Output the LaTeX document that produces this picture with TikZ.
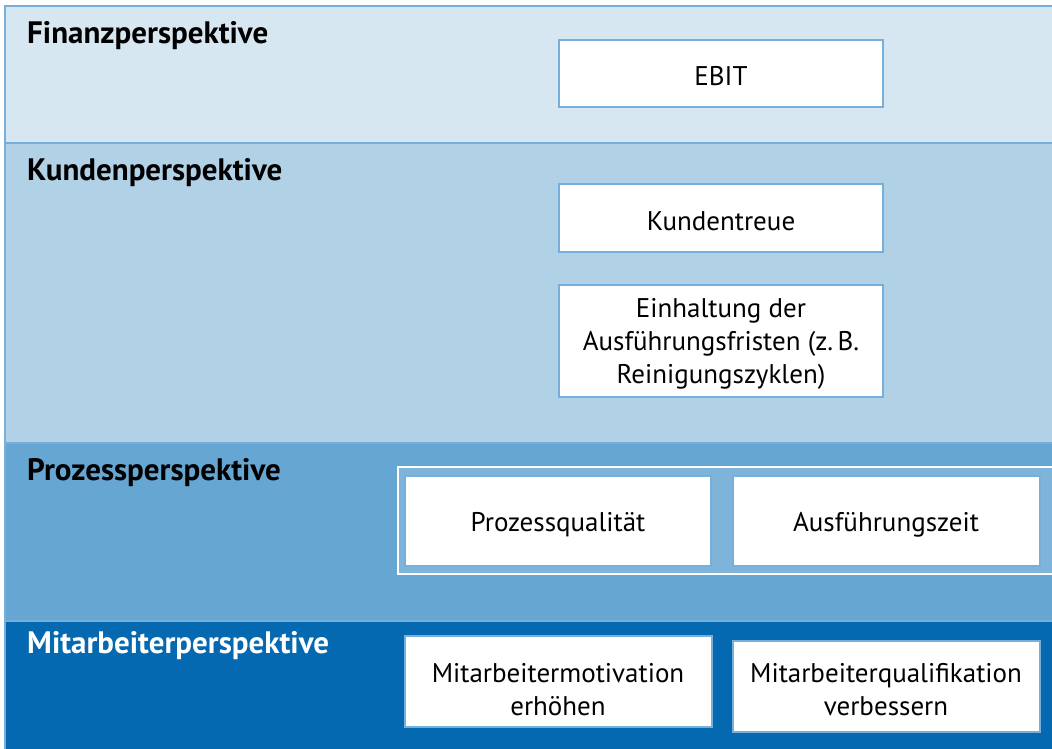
\documentclass[tikz,border=0pt]{standalone}
\usepackage{fontspec}
\setmainfont{PT Sans}
\definecolor{cfin}{HTML}{D7E7F2}
\definecolor{ckun}{HTML}{B1D1E6}
\definecolor{cpro}{HTML}{66A6D2}
\definecolor{cmit}{HTML}{0469B1}
\definecolor{cgrp}{HTML}{7FB4DA}
\definecolor{cedge}{HTML}{78AEDA}
\begin{document}
\begin{tikzpicture}[x=1pt,y=-1pt,
  band/.style={draw=cedge,line width=1.2pt},
  title/.style={anchor=base west,font=\bfseries\fontsize{31}{36}\selectfont,inner sep=0pt},
  item/.style={draw=cedge,fill=white,line width=1.2pt},
  itemtext/.style={font=\fontsize{27}{33}\selectfont,align=center,inner sep=0pt}]
\useasboundingbox (0,0) rectangle (1052,749);
\fill[white] (0,0) rectangle (1052,749);
% bands
\draw[band,fill=cfin] (5,6) rectangle (1053,143);
\draw[band,fill=ckun] (5,143) rectangle (1053,443);
\draw[band,fill=cpro] (5,443) rectangle (1053,621);
\draw[band,fill=cmit] (5,621) rectangle (1053,750);
\node[title] (tfin) at (27,44) {Finanzperspektive};
\node[title] (tkun) at (27,180) {Kundenperspektive};
\node[title] (tpro) at (27,480) {Prozessperspektive};
\node[title,text=white] (tmit) at (27,653) {Mitarbeiterperspektive};
% group box
\draw[draw=white,fill=cgrp,line width=1.2pt] (398,467) rectangle (1053,574);
% items
\draw[item] (559,40) rectangle (883,107);
\node[itemtext] (ebit) at (721,76) {EBIT};
\draw[item] (559,184) rectangle (883,252);
\node[itemtext] (treue) at (721,221) {Kundentreue};
\draw[item] (559,285) rectangle (883,397);
\node[itemtext] (frist) at (721,344) {Einhaltung der\\Ausführungsfristen (z.\,B.\\Reinigungszyklen)};
\draw[item] (405,476) rectangle (711,566);
\node[itemtext] (pq) at (558,525) {Prozessqualität};
\draw[item] (733,476) rectangle (1040,566);
\node[itemtext] (az) at (886,525) {Ausführungszeit};
\draw[item] (405,636) rectangle (712,727);
\node[itemtext] (mm) at (558,690) {Mitarbeitermotivation\\erhöhen};
\draw[item] (733,641) rectangle (1040,732);
\node[itemtext] (mq) at (886,690) {Mitarbeiterqualifikation\\verbessern};
\end{tikzpicture}
\end{document}
